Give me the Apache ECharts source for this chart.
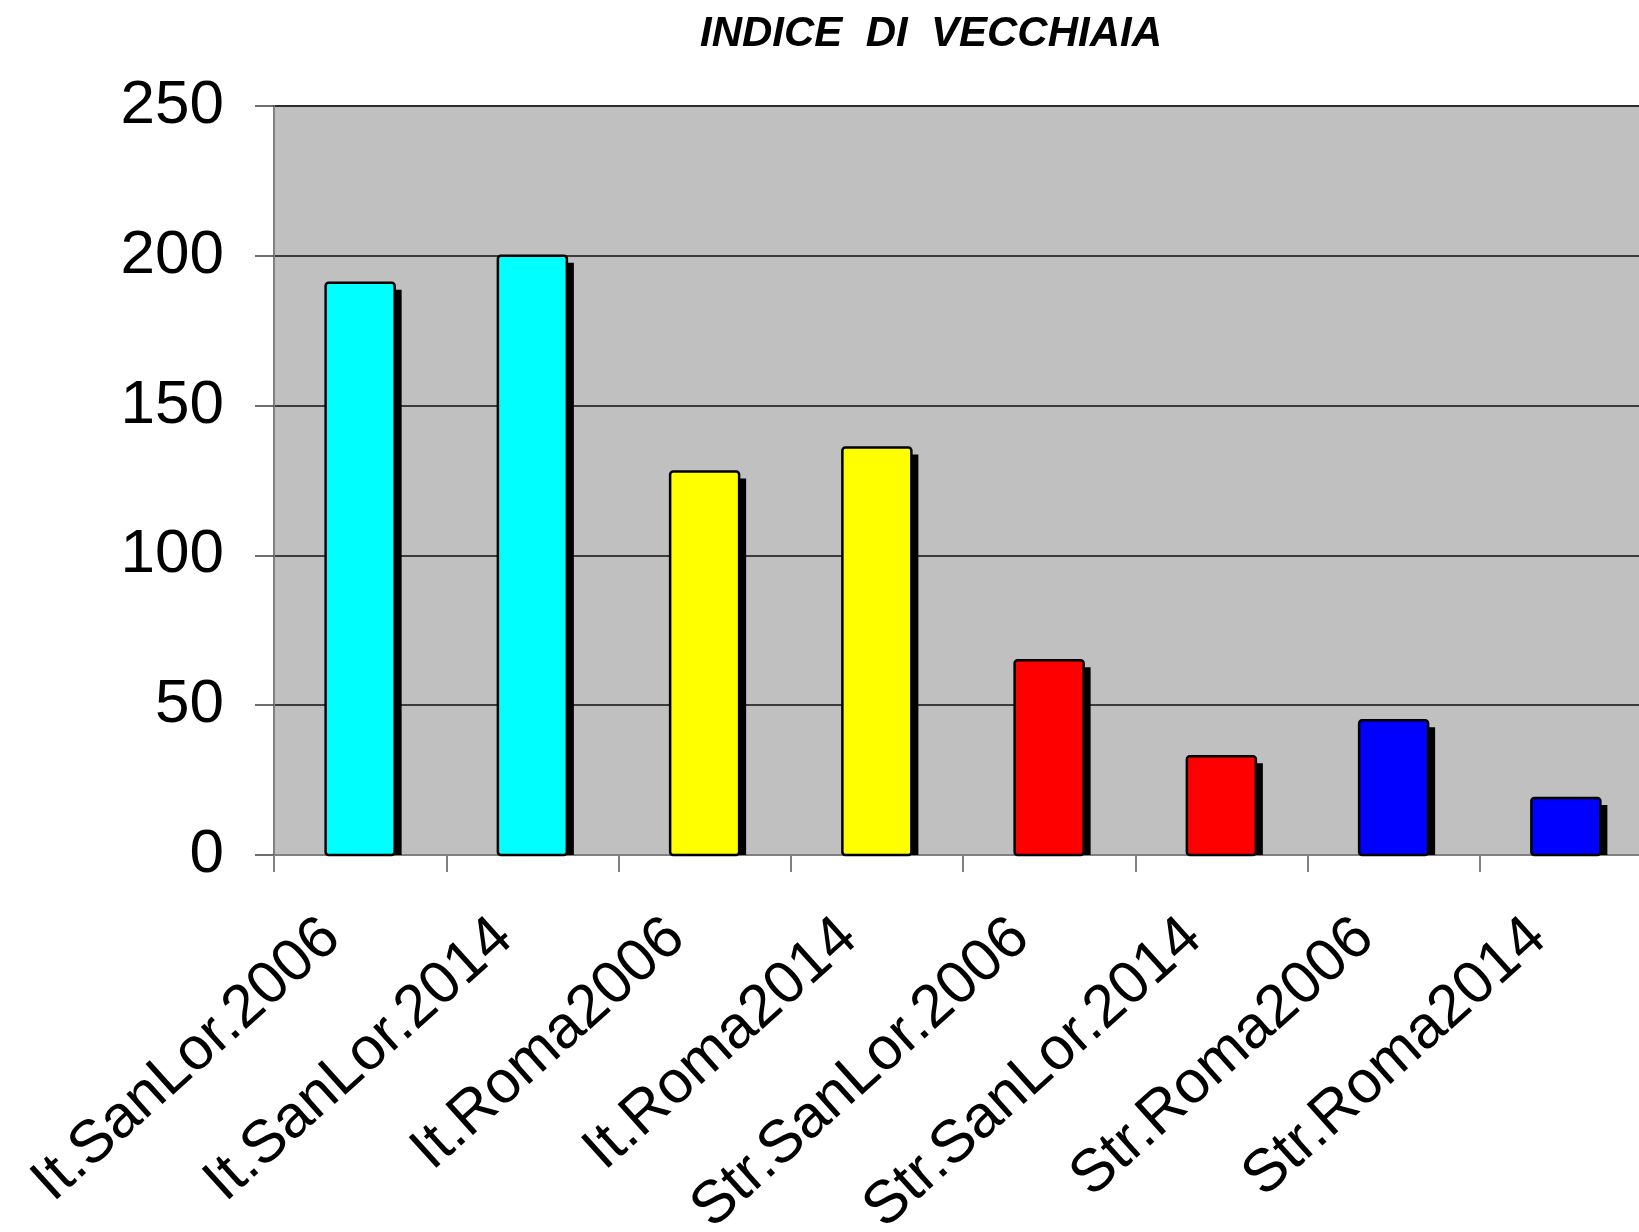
<!DOCTYPE html>
<html>
<head>
<meta charset="utf-8">
<script src="https://cdn.jsdelivr.net/npm/echarts@6/dist/echarts.min.js"></script>
<style>
html,body{margin:0;padding:0;background:#fff;}
#chart{width:1639px;height:1232px;}
</style>
</head>
<body>
<div id="chart"></div>
<script>
const titleText = 'INDICE  DI  VECCHIAIA';
const categories = ['It.SanLor.2006','It.SanLor.2014','It.Roma2006','It.Roma2014','Str.SanLor.2006','Str.SanLor.2014','Str.Roma2006','Str.Roma2014'];
const values = [191, 200, 128, 136, 65, 33, 45, 19];
const barColors = ['#00FFFF','#00FFFF','#FFFF00','#FFFF00','#FF0000','#FF0000','#0000FF','#0000FF'];
const yTicks = [0, 50, 100, 150, 200, 250];

const chart = echarts.init(document.getElementById('chart'), null, {renderer:'canvas'});
const FONT = '"Liberation Sans", Arial, sans-serif';
chart.setOption({
  animation: false,
  backgroundColor: '#ffffff',
  title: {
    text: titleText,
    left: 926,
    top: 8,
    textAlign: 'center',
    textStyle: {fontFamily: FONT, fontSize: 42, fontWeight: 'bold', fontStyle: 'italic', color: '#000'}
  },
  grid: {
    left: 274, top: 106, width: 1378, height: 749,
    outerBoundsMode: 'none', containLabel: false,
    show: true, backgroundColor: '#C0C0C0', borderColor: '#808080', borderWidth: 2
  },
  xAxis: {
    type: 'category',
    data: categories,
    boundaryGap: true,
    axisLine: {show: true, lineStyle: {color: '#808080', width: 2}},
    axisTick: {show: true, length: 17, lineStyle: {color: '#808080', width: 2}},
    axisLabel: {
      rotate: 42, interval: 0, margin: 49, padding: [0, 38, 0, 0],
      fontFamily: FONT, fontSize: 60, color: '#000'
    },
    splitLine: {show: false}
  },
  yAxis: {
    type: 'value',
    min: yTicks[0], max: yTicks[yTicks.length-1], interval: 50,
    axisLine: {show: true, lineStyle: {color: '#808080', width: 2}},
    axisTick: {show: true, inside: false, length: 19, lineStyle: {color: '#404040', width: 1.5}},
    axisLabel: {margin: 50, fontFamily: FONT, fontSize: 62, color: '#000'},
    splitLine: {show: true, lineStyle: {color: '#111', width: 1.5}}
  },
  series: [{
    type: 'custom',
    data: categories.map((c, i) => [i, values[i]]),
    encode: {x: 0, y: 1},
    renderItem: function (params, api) {
      const idx = api.value(0);
      const v = api.value(1);
      const top = api.coord([idx, v]);
      const base = api.coord([idx, 0]);
      const w = 69;
      const x = top[0] - w / 2;
      const h = base[1] - top[1];
      return {
        type: 'group',
        children: [
          {type: 'rect', shape: {x: x + 7, y: top[1] + 7, width: w, height: h - 7}, style: {fill: '#000'}},
          {type: 'rect', shape: {x: x, y: top[1], width: w, height: h, r: 3},
           style: {fill: barColors[idx], stroke: '#000', lineWidth: 2.5}}
        ]
      };
    }
  }]
});
</script>
</body>
</html>
